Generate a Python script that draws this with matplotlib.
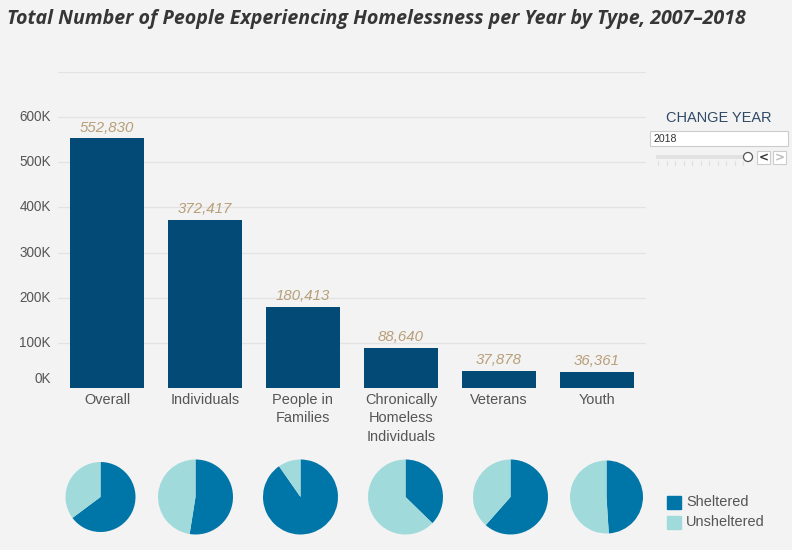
import matplotlib
matplotlib.use("Agg")
import matplotlib.pyplot as plt
from matplotlib.patches import Rectangle, Ellipse
from matplotlib.transforms import ScaledTranslation

# ---- data ----
categories = ["Overall", "Individuals", "People in\nFamilies",
              "Chronically\nHomeless\nIndividuals", "Veterans", "Youth"]
totals = [552830, 372417, 180413, 88640, 37878, 36361]
value_labels = ["552,830", "372,417", "180,413", "88,640", "37,878", "36,361"]
sheltered_share = [0.648, 0.525, 0.903, 0.373, 0.615, 0.49]
ytick_values = [0, 100000, 200000, 300000, 400000, 500000, 600000]
ytick_labels = ["0K", "100K", "200K", "300K", "400K", "500K", "600K"]
legend_labels = ["Sheltered", "Unsheltered"]
year = "2018"

# ---- style ----
BG = "#f3f3f3"
BAR = "#034a77"
DARK = "#0076a8"
LIGHT = "#a1dadb"
LABEL = "#b89f78"
TEXT = "#555555"
GRID = "#e3e3e3"

W, H = 792, 550
DPI = 100
fig = plt.figure(figsize=(W / DPI, H / DPI), dpi=DPI, facecolor=BG)

def fx(px):
    return px / W

def fy(py):
    return 1 - py / H

def pt(px):
    return px * 72 / DPI

# main bar axes: x 58..646 px, y 72..388 px
ax = fig.add_axes([fx(58), fy(388), fx(646) - fx(58), fy(72) - fy(388)])
ax.set_facecolor(BG)
x = list(range(len(categories)))
ax.bar(x, totals, width=0.755, color=BAR, zorder=3)
ax.set_xlim(-0.5, len(categories) - 0.5)
ax.set_ylim(0, 700000)
for s in ax.spines.values():
    s.set_visible(False)
for v in ytick_values[1:] + [700000]:
    ax.axhline(v, color=GRID, lw=0.9, zorder=1)
ax.set_yticks([])
ax.set_xticks(x)
ax.set_xticklabels(categories, fontsize=pt(14.5), color=TEXT,
                   family="Liberation Sans", linespacing=1.4)
ax.tick_params(axis="x", length=0, pad=pt(5))

ytr = ax.get_yaxis_transform()
for v, lab in zip(ytick_values, ytick_labels):
    off = ScaledTranslation(-7 / DPI, (9 / DPI) if v == 0 else 0, fig.dpi_scale_trans)
    ax.text(0, v, lab, transform=ytr + off, ha="right", va="center",
            fontsize=pt(13.5), color=TEXT, family="Liberation Sans")

for xi, v, lab in zip(x, totals, value_labels):
    ax.annotate(lab, (xi, v), xytext=(0, pt(3.5)), textcoords="offset points",
                ha="center", va="bottom", fontsize=pt(15), color=LABEL,
                style="italic", family="Liberation Sans")

# title
fig.text(fx(7), fy(19), "Total Number of People Experiencing Homelessness per Year by Type, 2007\u20132018",
         ha="left", va="center", fontsize=pt(19.6), color="#363636",
         weight="bold", style="italic", family="Open Sans")

# pies
pie_cx = [100.5, 195.5, 300.5, 405.5, 510.5, 606.5]
pie_r = [35, 37.5, 37.5, 37.5, 37.5, 36.5]
pie_cy = 497
for cx, r, sh in zip(pie_cx, pie_r, sheltered_share):
    pax = fig.add_axes([fx(cx - r), fy(pie_cy + r), fx(2 * r), fy(pie_cy - r) - fy(pie_cy + r)])
    pax.pie([sh, 1 - sh], colors=[DARK, LIGHT], startangle=90, counterclock=False,
            radius=1, wedgeprops=dict(linewidth=0))
    pax.set_xlim(-1, 1)
    pax.set_ylim(-1, 1)
    pax.set_aspect("equal")
    pax.axis("off")

# legend
for i, (lab, col) in enumerate(zip(legend_labels, [DARK, LIGHT])):
    y0 = 495.5 + i * 20
    fig.patches.append(Rectangle((fx(666.5), fy(y0 + 13.5)), fx(14), fy(y0) - fy(y0 + 13.5),
                                 transform=fig.transFigure, color=col))
    fig.text(fx(686), fy(y0 + 6.5), lab, ha="left", va="center", fontsize=pt(14.5),
             color=TEXT, family="Liberation Sans")

# change-year widget
fig.text(fx(719), fy(118), "CHANGE YEAR", ha="center", va="center", fontsize=pt(14.5),
         color="#2f4a66", family="Liberation Sans")
fig.patches.append(Rectangle((fx(650), fy(146)), fx(138), fy(131) - fy(146),
                             transform=fig.transFigure, facecolor="white",
                             edgecolor="#cccccc", lw=0.8))
fig.text(fx(654), fy(139), year, ha="left", va="center", fontsize=pt(10.5),
         color="#333333", family="Liberation Sans")
fig.patches.append(Rectangle((fx(656), fy(159)), fx(89), fy(155) - fy(159),
                             transform=fig.transFigure, facecolor="#e2e2e2", edgecolor="none"))
for i in range(11):
    xx = 658 + i * 8.5
    fig.lines.append(plt.Line2D([fx(xx), fx(xx)], [fy(161), fy(165)], transform=fig.transFigure,
                                color="#e0e0e0", lw=0.8))
fig.patches.append(Ellipse((fx(748), fy(157)), 9 / W, 9 / H, transform=fig.transFigure,
                           facecolor="white", edgecolor="#555555", lw=0.9))
for bx, sym, col in [(757, "<", "#333333"), (773, ">", "#bbbbbb")]:
    fig.patches.append(Rectangle((fx(bx), fy(164)), fx(13), fy(151) - fy(164),
                                 transform=fig.transFigure, facecolor="white",
                                 edgecolor="#cccccc", lw=0.8))
    fig.text(fx(bx + 6.5), fy(157.5), sym, ha="center", va="center", fontsize=pt(12),
             color=col, weight="bold", family="DejaVu Sans")

fig.savefig("out.png", dpi=DPI, facecolor=BG)
